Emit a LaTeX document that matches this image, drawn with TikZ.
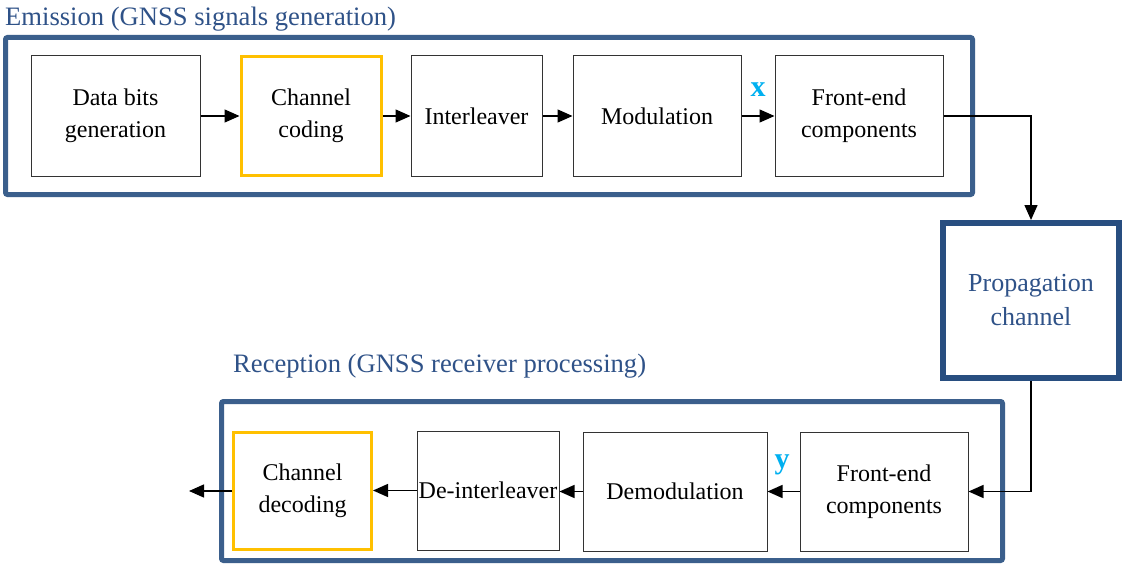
\documentclass[tikz,border=0pt]{standalone}
\usepackage{fontspec}
\setmainfont{Liberation Serif}
\usetikzlibrary{arrows.meta}
\definecolor{groupblue}{HTML}{3B5F8C}
\definecolor{propblue}{HTML}{284E80}
\definecolor{titleblue}{HTML}{2F5288}
\definecolor{codeyellow}{HTML}{FFC000}
\definecolor{sigcyan}{HTML}{00B0F0}
\definecolor{boxgray}{HTML}{333333}
\tikzset{
  blk/.style={draw=boxgray, line width=1pt, rectangle, inner sep=0pt, align=center,
    font=\fontsize{24}{32}\selectfont},
  codec/.style={blk, draw=codeyellow, line width=3pt},
  group/.style={draw=groupblue, line width=5pt, rounded corners=2pt},
  prop/.style={draw=propblue, line width=6pt, rectangle, inner sep=0pt, align=center,
    text=titleblue, font=\fontsize{26}{34}\selectfont},
  grouptitle/.style={text=titleblue, font=\fontsize{26.6}{30}\selectfont, inner sep=0pt},
  flow/.style={line width=1.4pt, -{Triangle[length=15pt,width=13pt]}},
  sig/.style={text=sigcyan, font=\fontsize{30}{30}\selectfont\bfseries, inner sep=0pt}
}
\begin{document}
\begin{tikzpicture}[x=1pt,y=-1pt]
\useasboundingbox[fill=white] (0,0) rectangle (1124,567);
% group frames
\draw[group] (5.5,37.5) rectangle (972.5,194.5);
\draw[group] (221.5,401.5) rectangle (1002.5,560.5);
\node[grouptitle, anchor=base west] (emt) at (5,26) {Emission (GNSS signals generation)};
\node[grouptitle, anchor=base west] (ret) at (233,372) {Reception (GNSS receiver processing)};
% emission row
\node[blk, minimum width=169pt, minimum height=120pt] (db) at (115.5,116) {Data bits\\generation};
\node[codec, minimum width=140pt, minimum height=118pt] (cc) at (311,116) {Channel\\coding};
\node[blk, minimum width=131pt, minimum height=120pt] (il) at (476.5,116) {Interleaver};
\node[blk, minimum width=168pt, minimum height=120pt] (mod) at (657,116) {Modulation};
\node[blk, minimum width=168pt, minimum height=120pt] (fe1) at (859,116) {Front-end\\components};
% propagation
\node[prop, minimum width=176pt, minimum height=155pt] (pc) at (1031,300.5) {Propagation\\channel};
% reception row
\node[blk, minimum width=168pt, minimum height=119pt] (fe2) at (884,491.5) {Front-end\\components};
\node[blk, minimum width=184pt, minimum height=119pt] (dm) at (675,491.5) {Demodulation};
\node[blk, minimum width=142pt, minimum height=119pt] (di) at (488,490.5) {De-interleaver};
\node[codec, minimum width=138pt, minimum height=117pt] (cd) at (302.5,491) {Channel\\decoding};
\coordinate (out) at (189,491);
% signal labels
\node[sig] (xl) at (758,90) {x};
\node[sig] (yl) at (782,465) {y};
% connectors
\draw[flow] (db) -- (cc);
\draw[flow] (cc) -- (il);
\draw[flow] (il) -- (mod);
\draw[flow] (mod) -- (fe1);
\draw[flow] (fe1.east) -| (pc.north);
\draw[flow] (pc.south) |- (fe2.east);
\draw[flow] (fe2) -- (dm);
\draw[flow] (dm.west) -- (dm.west -| di.east);
\draw[flow] (di.west) -- (di.west -| cd.east);
\draw[flow] (cd.west) -- (out);
\end{tikzpicture}
\end{document}
